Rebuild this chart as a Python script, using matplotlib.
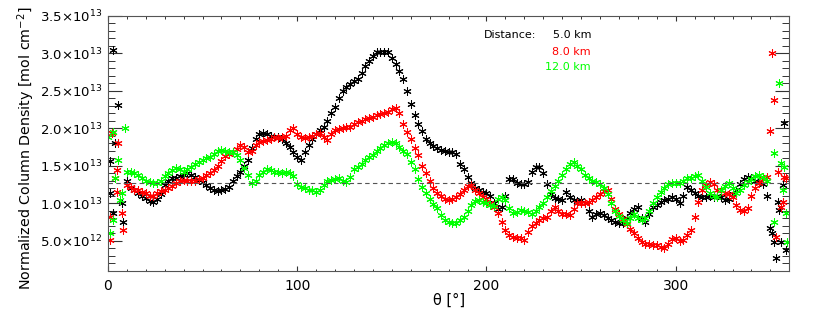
import numpy as np
import matplotlib
matplotlib.use("Agg")
import matplotlib.pyplot as plt
from matplotlib.ticker import MultipleLocator, FixedLocator

# ---------------- data (units of 1e13 mol cm^-2) ----------------
theta_main = np.arange(10, 349, 2)

black_5km = [1.30, 1.20, 1.17, 1.13, 1.10, 1.07, 1.03, 1.01, 1.05, 1.12,
             1.24, 1.30, 1.33, 1.34, 1.36, 1.37, 1.40, 1.38, 1.35, 1.31,
             1.28, 1.24, 1.20, 1.18, 1.16, 1.17, 1.19, 1.22, 1.30, 1.36,
             1.42, 1.50, 1.58, 1.74, 1.86, 1.92, 1.93, 1.92, 1.90, 1.88,
             1.88, 1.86, 1.80, 1.75, 1.68, 1.62, 1.58, 1.68, 1.78, 1.86,
             1.92, 1.97, 2.02, 2.10, 2.20, 2.28, 2.40, 2.50, 2.55, 2.59,
             2.63, 2.66, 2.74, 2.83, 2.90, 2.96, 3.01, 3.01, 3.02, 3.01,
             2.93, 2.85, 2.76, 2.66, 2.50, 2.32, 2.18, 2.05, 1.96, 1.86,
             1.80, 1.76, 1.73, 1.71, 1.69, 1.68, 1.68, 1.66, 1.52, 1.45,
             1.35, 1.27, 1.20, 1.17, 1.15, 1.13, 1.10, 1.00, 0.92, 0.95,
             1.10, 1.32, 1.32, 1.27, 1.26, 1.26, 1.28, 1.42, 1.48, 1.48,
             1.40, 1.25, 1.12, 1.07, 1.05, 1.04, 1.15, 1.08, 1.04, 1.03,
             1.04, 1.00, 0.90, 0.82, 0.85, 0.87, 0.84, 0.80, 0.78, 0.75,
             0.73, 0.74, 0.80, 0.87, 0.92, 0.95, 0.80, 0.75, 0.85, 0.95,
             0.98, 1.02, 1.04, 1.05, 1.08, 1.06, 1.00, 1.10, 1.22, 1.18,
             1.14, 1.10, 1.08, 1.08, 1.09, 1.08, 1.10, 1.08, 1.04, 1.06,
             1.12, 1.18, 1.25, 1.32, 1.35, 1.33, 1.30, 1.28, 1.25, 1.10]

red_8km = [1.24, 1.22, 1.18, 1.17, 1.15, 1.13, 1.10, 1.09, 1.13, 1.16,
           1.18, 1.20, 1.23, 1.27, 1.30, 1.31, 1.30, 1.30, 1.30, 1.32,
           1.34, 1.37, 1.40, 1.44, 1.50, 1.56, 1.63, 1.66, 1.68, 1.72,
           1.77, 1.75, 1.68, 1.70, 1.78, 1.82, 1.83, 1.84, 1.86, 1.88,
           1.87, 1.88, 1.90, 1.97, 2.00, 1.92, 1.88, 1.87, 1.88, 1.90,
           1.92, 1.93, 1.88, 1.84, 1.92, 1.97, 1.99, 2.00, 2.01, 2.02,
           2.05, 2.08, 2.10, 2.12, 2.14, 2.15, 2.17, 2.19, 2.20, 2.22,
           2.26, 2.27, 2.20, 2.05, 1.95, 1.86, 1.74, 1.64, 1.50, 1.40,
           1.30, 1.20, 1.13, 1.09, 1.06, 1.04, 1.05, 1.08, 1.12, 1.18,
           1.23, 1.24, 1.18, 1.13, 1.08, 1.05, 1.00, 0.95, 0.87, 0.75,
           0.64, 0.58, 0.55, 0.53, 0.53, 0.51, 0.62, 0.70, 0.74, 0.77,
           0.80, 0.82, 0.90, 0.95, 0.90, 0.86, 0.85, 0.84, 0.92, 1.00,
           1.00, 1.00, 1.01, 1.04, 1.08, 1.12, 1.16, 1.18, 1.05, 0.92,
           0.85, 0.79, 0.72, 0.66, 0.60, 0.54, 0.48, 0.46, 0.45, 0.44,
           0.44, 0.42, 0.40, 0.45, 0.52, 0.53, 0.50, 0.51, 0.58, 0.64,
           0.82, 1.02, 1.18, 1.24, 1.28, 1.25, 1.18, 1.17, 1.13, 1.12,
           1.08, 0.98, 0.91, 0.90, 0.93, 1.10, 1.20, 1.27, 1.32, 1.35]

green_12km = [1.42, 1.42, 1.40, 1.37, 1.33, 1.30, 1.28, 1.27, 1.27, 1.30,
              1.36, 1.40, 1.44, 1.47, 1.45, 1.42, 1.45, 1.48, 1.52, 1.55,
              1.58, 1.60, 1.62, 1.65, 1.69, 1.71, 1.70, 1.68, 1.68, 1.64,
              1.58, 1.47, 1.38, 1.27, 1.30, 1.38, 1.42, 1.46, 1.44, 1.42,
              1.41, 1.40, 1.41, 1.40, 1.36, 1.25, 1.21, 1.20, 1.18, 1.17,
              1.15, 1.17, 1.24, 1.30, 1.31, 1.32, 1.33, 1.30, 1.28, 1.35,
              1.45, 1.48, 1.52, 1.57, 1.61, 1.64, 1.69, 1.73, 1.78, 1.80,
              1.82, 1.80, 1.75, 1.70, 1.66, 1.55, 1.45, 1.32, 1.22, 1.14,
              1.06, 0.99, 0.94, 0.84, 0.78, 0.75, 0.73, 0.74, 0.78, 0.81,
              0.90, 0.98, 1.03, 1.04, 1.02, 1.00, 0.97, 0.96, 1.05, 1.08,
              1.04, 0.94, 0.87, 0.88, 0.91, 0.90, 0.88, 0.86, 0.90, 0.95,
              1.00, 1.08, 1.16, 1.23, 1.30, 1.37, 1.45, 1.52, 1.55, 1.50,
              1.45, 1.38, 1.33, 1.29, 1.28, 1.26, 1.20, 1.12, 1.00, 0.90,
              0.83, 0.77, 0.73, 0.80, 0.86, 0.80, 0.77, 0.80, 0.90, 1.00,
              1.08, 1.15, 1.20, 1.25, 1.27, 1.27, 1.27, 1.30, 1.33, 1.33,
              1.36, 1.38, 1.30, 1.22, 1.13, 1.10, 1.08, 1.18, 1.23, 1.27,
              1.20, 1.14, 1.18, 1.24, 1.28, 1.32, 1.36, 1.38, 1.35, 1.30]

# scattered points near 0 and 360 degrees
black_edge_theta = [1, 1, 2.7, 3.7, 5.5, 2.7, 7.3, 8,
                    357, 356.6, 354, 354.5, 350, 351, 352, 355.5, 358, 353]
black_edge_val = [1.13, 1.56, 3.04, 1.80, 2.31, 0.87, 1.00, 0.75,
                  2.07, 1.24, 1.02, 0.91, 0.67, 0.60, 0.48, 0.48, 0.37, 0.27]
red_edge_theta = [1, 1, 2, 4.6, 5.5, 4.6, 4, 7.3, 8,
                  351, 352, 350, 354, 357, 358, 356.5, 355.5, 353]
red_edge_val = [0.51, 0.82, 1.93, 1.44, 1.80, 1.15, 1.33, 0.87, 0.64,
                3.00, 2.38, 1.96, 1.42, 1.35, 1.33, 1.02, 0.95, 0.55]
green_edge_theta = [0, 2.7, 9, 5.5, 3.7, 6.3, 7.4, 2.7, 1,
                    354.5, 352, 355.6, 357, 356.6, 358, 352, 359]
green_edge_val = [1.88, 1.95, 2.00, 1.57, 1.33, 1.04, 1.13, 0.78, 0.60,
                  2.60, 1.67, 1.53, 1.48, 1.18, 0.87, 0.75, 0.48]

mean_level = 1.27
scale = 1e13

series = [
    ("5.0 km", "#000000", black_5km, black_edge_theta, black_edge_val),
    ("8.0 km", "#ff0000", red_8km, red_edge_theta, red_edge_val),
    ("12.0 km", "#00ff00", green_12km, green_edge_theta, green_edge_val),
]

ytick_vals = [0.5, 1.0, 1.5, 2.0, 2.5, 3.0, 3.5]
ytick_labels = [r"5.0$\times$10$^{12}$", r"1.0$\times$10$^{13}$",
                r"1.5$\times$10$^{13}$", r"2.0$\times$10$^{13}$",
                r"2.5$\times$10$^{13}$", r"3.0$\times$10$^{13}$",
                r"3.5$\times$10$^{13}$"]

# ---------------- figure ----------------
plt.rcParams['font.family'] = ['DejaVu Sans']
plt.rcParams['mathtext.default'] = 'regular'
fig = plt.figure(figsize=(8.3, 3.2), dpi=100)
ax = fig.add_axes([0.130, 0.154, 0.821, 0.797])

asterisk = (6, 2, 0)
for name, col, vals, et, ev in series:
    ax.plot(theta_main, np.array(vals) * scale, linestyle='none', marker=asterisk,
            markersize=5.8, markeredgewidth=0.75, color=col)
    ax.plot(et, np.array(ev) * scale, linestyle='none', marker=asterisk,
            markersize=5.8, markeredgewidth=0.75, color=col)

ax.axhline(mean_level * scale, color='#555555', linestyle=(0, (4, 3)), linewidth=0.8)

ax.set_xlim(0, 360)
ax.set_ylim(0.1 * scale, 3.5 * scale)
ax.xaxis.set_major_locator(MultipleLocator(100))
ax.xaxis.set_minor_locator(MultipleLocator(10))
ax.yaxis.set_major_locator(FixedLocator([v * scale for v in ytick_vals]))
ax.yaxis.set_minor_locator(MultipleLocator(0.1 * scale))
ax.set_yticklabels(ytick_labels)

ax.tick_params(axis='y', which='major', direction='in', length=9.8, width=0.8,
               left=True, right=True, labelsize=9.5, pad=4, colors='#333333',
               labelcolor='black')
ax.tick_params(axis='y', which='minor', direction='in', length=4.9, width=0.7,
               left=True, right=True, colors='#333333')
ax.tick_params(axis='x', which='major', direction='in', length=3.7, width=0.8,
               bottom=True, top=True, labelsize=10, pad=6, colors='#333333',
               labelcolor='black')
ax.tick_params(axis='x', which='minor', direction='in', length=1.8, width=0.7,
               bottom=True, top=True, colors='#333333')
for sp in ax.spines.values():
    sp.set_color('#555555')
    sp.set_linewidth(0.8)

fig.text(0.031, 0.537, r"Normalized Column Density [mol cm$^{-2}$]", fontsize=10.3,
         rotation=90, ha='center', va='center')
ax.set_xlabel("θ [°]", fontsize=10.5, labelpad=0)

# legend as text
ax.text(0.552, 0.925, "Distance:", transform=ax.transAxes, fontsize=8,
        ha='left', va='center', color='black')
ys = [0.925, 0.858, 0.797]
for (name, col, *_), yy in zip(series, ys):
    ax.text(0.709, yy, name, transform=ax.transAxes, fontsize=8,
            ha='right', va='center', color=col)

fig.savefig("out.png", dpi=100)
